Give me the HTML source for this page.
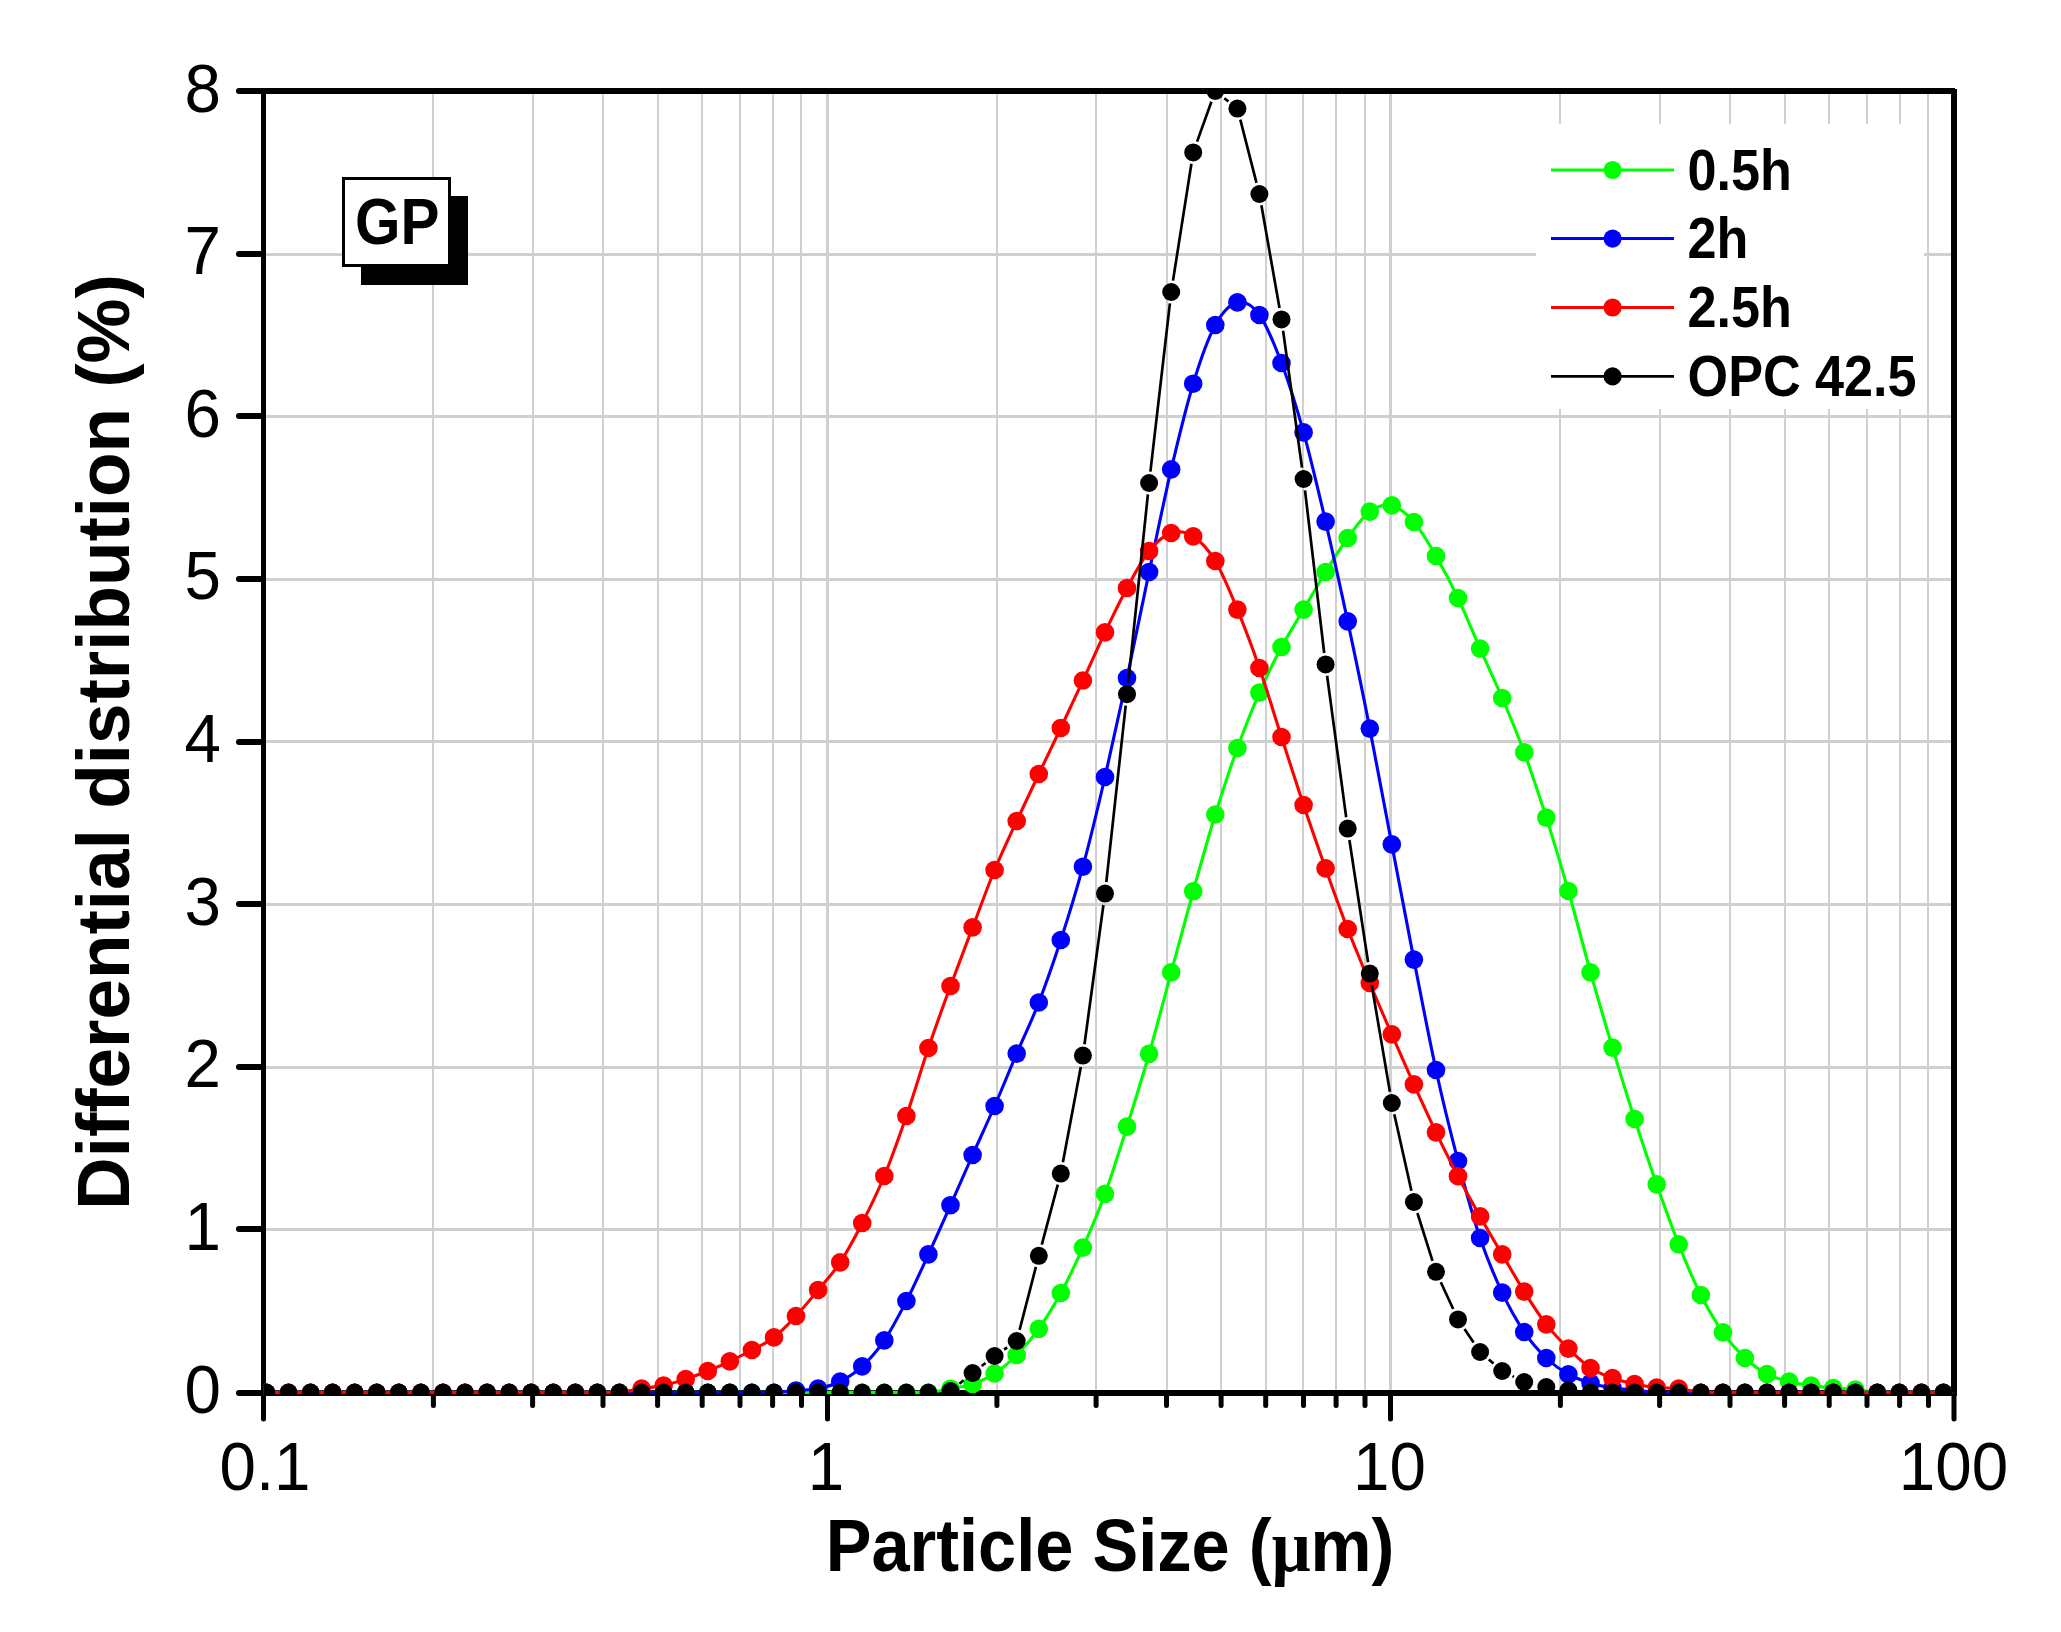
<!DOCTYPE html>
<html lang="en"><head><meta charset="utf-8"><title>Particle size distribution - GP</title>
<style>html,body{margin:0;padding:0;background:#fff;overflow:hidden}svg{display:block}text{font-family:"Liberation Sans",Arial,Helvetica,sans-serif;fill:#000;font-variant-ligatures:none;font-kerning:none}.b{font-weight:bold}</style></head><body>
<svg width="2061" height="1632" viewBox="0 0 2061 1632">
<rect x="0" y="0" width="2061" height="1632" fill="#fff"/>
<g fill="#d0d0d0" shape-rendering="crispEdges">
<rect x="432" y="94" width="2" height="1296"/>
<rect x="532" y="94" width="2" height="1296"/>
<rect x="602" y="94" width="2" height="1296"/>
<rect x="657" y="94" width="2" height="1296"/>
<rect x="701" y="94" width="2" height="1296"/>
<rect x="739" y="94" width="2" height="1296"/>
<rect x="772" y="94" width="2" height="1296"/>
<rect x="800" y="94" width="2" height="1296"/>
<rect x="996" y="94" width="2" height="1296"/>
<rect x="1095" y="94" width="2" height="1296"/>
<rect x="1166" y="94" width="2" height="1296"/>
<rect x="1220" y="94" width="2" height="1296"/>
<rect x="1265" y="94" width="2" height="1296"/>
<rect x="1302" y="94" width="2" height="1296"/>
<rect x="1335" y="94" width="2" height="1296"/>
<rect x="1364" y="94" width="2" height="1296"/>
<rect x="1559" y="94" width="2" height="1296"/>
<rect x="1659" y="94" width="2" height="1296"/>
<rect x="1729" y="94" width="2" height="1296"/>
<rect x="1784" y="94" width="2" height="1296"/>
<rect x="1828" y="94" width="2" height="1296"/>
<rect x="1866" y="94" width="2" height="1296"/>
<rect x="1899" y="94" width="2" height="1296"/>
<rect x="1927" y="94" width="2" height="1296"/>
<rect x="826" y="94" width="3" height="1296"/>
<rect x="1389" y="94" width="3" height="1296"/>
<rect x="266" y="1228" width="1685" height="3"/>
<rect x="266" y="1066" width="1685" height="3"/>
<rect x="266" y="903" width="1685" height="3"/>
<rect x="266" y="740" width="1685" height="3"/>
<rect x="266" y="578" width="1685" height="3"/>
<rect x="266" y="415" width="1685" height="3"/>
<rect x="266" y="253" width="1685" height="3"/>
</g>
<rect x="1536" y="124" width="388" height="285" fill="#fff"/>
<g fill="#000" shape-rendering="crispEdges">
<rect x="261" y="88" width="5" height="1308"/>
<rect x="1951" y="89" width="6" height="1307"/>
<rect x="261" y="88" width="1694" height="6"/>
<rect x="261" y="1390" width="1696" height="6"/>
</g>
<g stroke="#000" stroke-width="6" stroke-linecap="round" fill="none">
<line x1="239" y1="1393" x2="262" y2="1393"/>
<line x1="239" y1="1229" x2="262" y2="1229"/>
<line x1="239" y1="1067" x2="262" y2="1067"/>
<line x1="239" y1="904" x2="262" y2="904"/>
<line x1="239" y1="742" x2="262" y2="742"/>
<line x1="239" y1="579" x2="262" y2="579"/>
<line x1="239" y1="416" x2="262" y2="416"/>
<line x1="239" y1="254" x2="262" y2="254"/>
<line x1="239" y1="91" x2="262" y2="91"/>
</g>
<g stroke="#000" stroke-width="5" stroke-linecap="round" fill="none">
<line x1="263.5" y1="1394" x2="263.5" y2="1419"/>
<line x1="827.5" y1="1394" x2="827.5" y2="1419"/>
<line x1="1390.5" y1="1394" x2="1390.5" y2="1419"/>
<line x1="1954.0" y1="1394" x2="1954.0" y2="1419"/>
<line x1="433.4" y1="1394" x2="433.4" y2="1405.5"/>
<line x1="532.6" y1="1394" x2="532.6" y2="1405.5"/>
<line x1="603.0" y1="1394" x2="603.0" y2="1405.5"/>
<line x1="657.6" y1="1394" x2="657.6" y2="1405.5"/>
<line x1="702.2" y1="1394" x2="702.2" y2="1405.5"/>
<line x1="740.0" y1="1394" x2="740.0" y2="1405.5"/>
<line x1="772.6" y1="1394" x2="772.6" y2="1405.5"/>
<line x1="801.5" y1="1394" x2="801.5" y2="1405.5"/>
<line x1="996.9" y1="1394" x2="996.9" y2="1405.5"/>
<line x1="1096.1" y1="1394" x2="1096.1" y2="1405.5"/>
<line x1="1166.5" y1="1394" x2="1166.5" y2="1405.5"/>
<line x1="1221.1" y1="1394" x2="1221.1" y2="1405.5"/>
<line x1="1265.7" y1="1394" x2="1265.7" y2="1405.5"/>
<line x1="1303.5" y1="1394" x2="1303.5" y2="1405.5"/>
<line x1="1336.1" y1="1394" x2="1336.1" y2="1405.5"/>
<line x1="1365.0" y1="1394" x2="1365.0" y2="1405.5"/>
<line x1="1560.4" y1="1394" x2="1560.4" y2="1405.5"/>
<line x1="1659.6" y1="1394" x2="1659.6" y2="1405.5"/>
<line x1="1730.0" y1="1394" x2="1730.0" y2="1405.5"/>
<line x1="1784.6" y1="1394" x2="1784.6" y2="1405.5"/>
<line x1="1829.2" y1="1394" x2="1829.2" y2="1405.5"/>
<line x1="1867.0" y1="1394" x2="1867.0" y2="1405.5"/>
<line x1="1899.6" y1="1394" x2="1899.6" y2="1405.5"/>
<line x1="1928.5" y1="1394" x2="1928.5" y2="1405.5"/>
</g>
<defs><clipPath id="pc"><rect x="263.5" y="91" width="1691" height="1304"/></clipPath></defs>
<g clip-path="url(#pc)">
<path fill="none" stroke="#00ff00" stroke-width="3.1" stroke-linejoin="round" d="M266.4 1392.4L288.5 1392.4L310.6 1392.4L332.6 1392.4L354.7 1392.4L376.8 1392.4L398.8 1392.4L420.9 1392.4L443.0 1392.4L465.0 1392.4L487.1 1392.4L509.2 1392.4L531.2 1392.4L553.3 1392.4L575.4 1392.4L597.4 1392.4L619.5 1392.4L641.6 1392.4L663.6 1392.4L685.7 1392.4L707.8 1392.4L729.8 1392.4L751.9 1392.4L774.0 1392.4L796.0 1392.4L818.1 1392.4L840.2 1392.4L862.2 1392.4L884.3 1392.4L906.4 1392.4L928.4 1392.4C935.8 1391.8 943.1 1390.1 950.5 1388.7C957.9 1387.3 965.2 1386.5 972.6 1384.0C980.0 1381.5 987.2 1378.3 994.6 1373.5C1002.0 1368.7 1009.3 1362.5 1016.7 1355.0C1024.1 1347.5 1031.5 1339.1 1038.8 1328.8C1046.1 1318.5 1053.4 1306.5 1060.8 1293.0C1068.2 1279.5 1075.5 1264.1 1082.9 1247.6C1090.3 1231.1 1097.7 1214.0 1105.0 1193.8C1112.3 1173.6 1119.7 1149.9 1127.0 1126.6C1134.3 1103.3 1141.7 1079.5 1149.1 1053.8C1156.5 1028.1 1163.8 999.5 1171.2 972.4C1178.6 945.3 1185.9 917.6 1193.2 891.3C1200.5 865.0 1207.9 838.4 1215.3 814.5C1222.7 790.6 1230.1 768.3 1237.4 748.0C1244.8 727.7 1252.1 709.4 1259.4 692.6C1266.8 675.8 1274.1 660.8 1281.5 647.0C1288.9 633.2 1296.2 622.1 1303.6 609.6C1310.9 597.1 1318.2 583.9 1325.6 572.0C1332.9 560.1 1340.3 548.1 1347.7 538.0C1355.1 527.9 1362.5 517.0 1369.8 511.6C1377.1 506.2 1384.4 503.7 1391.8 505.4C1399.2 507.1 1406.5 513.6 1413.9 522.0C1421.3 530.4 1428.7 543.3 1436.0 556.0C1443.3 568.7 1450.7 582.6 1458.0 598.0C1465.3 613.4 1472.7 631.9 1480.1 648.6C1487.5 665.3 1494.8 680.7 1502.2 698.0C1509.6 715.3 1516.9 732.5 1524.2 752.4C1531.5 772.3 1538.9 794.5 1546.3 817.6C1553.7 840.7 1561.0 865.2 1568.4 891.0C1575.8 916.8 1583.2 946.3 1590.5 972.4C1597.8 998.5 1605.2 1023.2 1612.5 1047.6C1619.8 1072.0 1627.2 1096.2 1634.6 1119.0C1642.0 1141.8 1649.3 1163.5 1656.7 1184.4C1664.1 1205.3 1671.4 1226.0 1678.7 1244.4C1686.0 1262.8 1693.4 1280.3 1700.8 1295.0C1708.2 1309.7 1715.6 1321.9 1722.9 1332.4C1730.2 1342.9 1737.6 1351.1 1744.9 1358.0C1752.2 1364.9 1759.6 1370.1 1767.0 1374.0C1774.4 1377.9 1781.8 1379.6 1789.1 1381.5C1796.4 1383.4 1803.8 1384.5 1811.1 1385.6C1818.4 1386.7 1825.8 1387.3 1833.2 1388.0C1840.6 1388.7 1848.0 1388.8 1855.3 1389.5C1862.6 1390.2 1869.9 1391.9 1877.3 1392.4L1899.4 1392.4L1921.5 1392.4L1943.5 1392.4"/>
<g fill="#00ff00"><circle cx="266.4" cy="1392.4" r="8.8"/><circle cx="288.5" cy="1392.4" r="8.8"/><circle cx="310.6" cy="1392.4" r="8.8"/><circle cx="332.6" cy="1392.4" r="8.8"/><circle cx="354.7" cy="1392.4" r="8.8"/><circle cx="376.8" cy="1392.4" r="8.8"/><circle cx="398.8" cy="1392.4" r="8.8"/><circle cx="420.9" cy="1392.4" r="8.8"/><circle cx="443.0" cy="1392.4" r="8.8"/><circle cx="465.0" cy="1392.4" r="8.8"/><circle cx="487.1" cy="1392.4" r="8.8"/><circle cx="509.2" cy="1392.4" r="8.8"/><circle cx="531.2" cy="1392.4" r="8.8"/><circle cx="553.3" cy="1392.4" r="8.8"/><circle cx="575.4" cy="1392.4" r="8.8"/><circle cx="597.4" cy="1392.4" r="8.8"/><circle cx="619.5" cy="1392.4" r="8.8"/><circle cx="641.6" cy="1392.4" r="8.8"/><circle cx="663.6" cy="1392.4" r="8.8"/><circle cx="685.7" cy="1392.4" r="8.8"/><circle cx="707.8" cy="1392.4" r="8.8"/><circle cx="729.8" cy="1392.4" r="8.8"/><circle cx="751.9" cy="1392.4" r="8.8"/><circle cx="774.0" cy="1392.4" r="8.8"/><circle cx="796.0" cy="1392.4" r="8.8"/><circle cx="818.1" cy="1392.4" r="8.8"/><circle cx="840.2" cy="1392.4" r="8.8"/><circle cx="862.2" cy="1392.4" r="8.8"/><circle cx="884.3" cy="1392.4" r="8.8"/><circle cx="906.4" cy="1392.4" r="8.8"/><circle cx="928.4" cy="1392.4" r="8.8"/><circle cx="950.5" cy="1388.7" r="9.3"/><circle cx="972.6" cy="1384" r="9.3"/><circle cx="994.6" cy="1373.5" r="9.3"/><circle cx="1016.7" cy="1355" r="9.3"/><circle cx="1038.8" cy="1328.8" r="9.3"/><circle cx="1060.8" cy="1293" r="9.3"/><circle cx="1082.9" cy="1247.6" r="9.3"/><circle cx="1105.0" cy="1193.8" r="9.3"/><circle cx="1127.0" cy="1126.6" r="9.3"/><circle cx="1149.1" cy="1053.8" r="9.3"/><circle cx="1171.2" cy="972.4" r="9.3"/><circle cx="1193.2" cy="891.3" r="9.3"/><circle cx="1215.3" cy="814.5" r="9.3"/><circle cx="1237.4" cy="748" r="9.3"/><circle cx="1259.4" cy="692.6" r="9.3"/><circle cx="1281.5" cy="647" r="9.3"/><circle cx="1303.6" cy="609.6" r="9.3"/><circle cx="1325.6" cy="572" r="9.3"/><circle cx="1347.7" cy="538" r="9.3"/><circle cx="1369.8" cy="511.6" r="9.3"/><circle cx="1391.8" cy="505.4" r="9.3"/><circle cx="1413.9" cy="522" r="9.3"/><circle cx="1436.0" cy="556" r="9.3"/><circle cx="1458.0" cy="598" r="9.3"/><circle cx="1480.1" cy="648.6" r="9.3"/><circle cx="1502.2" cy="698" r="9.3"/><circle cx="1524.2" cy="752.4" r="9.3"/><circle cx="1546.3" cy="817.6" r="9.3"/><circle cx="1568.4" cy="891" r="9.3"/><circle cx="1590.5" cy="972.4" r="9.3"/><circle cx="1612.5" cy="1047.6" r="9.3"/><circle cx="1634.6" cy="1119" r="9.3"/><circle cx="1656.7" cy="1184.4" r="9.3"/><circle cx="1678.7" cy="1244.4" r="9.3"/><circle cx="1700.8" cy="1295" r="9.3"/><circle cx="1722.9" cy="1332.4" r="9.3"/><circle cx="1744.9" cy="1358" r="9.3"/><circle cx="1767.0" cy="1374" r="9.3"/><circle cx="1789.1" cy="1381.5" r="9.3"/><circle cx="1811.1" cy="1385.6" r="9.3"/><circle cx="1833.2" cy="1388" r="9.3"/><circle cx="1855.3" cy="1389.5" r="9.3"/><circle cx="1877.3" cy="1392.4" r="8.8"/><circle cx="1899.4" cy="1392.4" r="8.8"/><circle cx="1921.5" cy="1392.4" r="8.8"/><circle cx="1943.5" cy="1392.4" r="8.8"/></g>
<path fill="none" stroke="#0000ff" stroke-width="3.1" stroke-linejoin="round" d="M266.4 1392.4L288.5 1392.4L310.6 1392.4L332.6 1392.4L354.7 1392.4L376.8 1392.4L398.8 1392.4L420.9 1392.4L443.0 1392.4L465.0 1392.4L487.1 1392.4L509.2 1392.4L531.2 1392.4L553.3 1392.4L575.4 1392.4L597.4 1392.4L619.5 1392.4L641.6 1392.4L663.6 1392.4L685.7 1392.4L707.8 1392.4L729.8 1392.4L751.9 1392.4L774.0 1392.4C781.4 1392.1 788.6 1391.2 796.0 1390.5C803.4 1389.8 810.7 1390.0 818.1 1388.5C825.5 1387.0 832.9 1385.2 840.2 1381.5C847.6 1377.8 854.9 1373.2 862.2 1366.4C869.6 1359.6 876.9 1351.3 884.3 1340.4C891.7 1329.5 899.0 1315.3 906.4 1301.0C913.8 1286.7 921.0 1270.4 928.4 1254.4C935.8 1238.4 943.1 1221.8 950.5 1205.2C957.9 1188.6 965.2 1171.5 972.6 1155.0C980.0 1138.5 987.2 1122.9 994.6 1106.0C1002.0 1089.1 1009.3 1070.8 1016.7 1053.6C1024.1 1036.3 1031.5 1021.4 1038.8 1002.5C1046.1 983.6 1053.4 962.6 1060.8 940.0C1068.2 917.4 1075.5 893.9 1082.9 866.7C1090.3 839.5 1097.7 808.5 1105.0 777.0C1112.3 745.5 1119.7 712.2 1127.0 678.0C1134.3 643.8 1141.7 606.8 1149.1 572.0C1156.5 537.2 1163.8 500.8 1171.2 469.4C1178.6 438.0 1185.9 407.8 1193.2 383.7C1200.5 359.6 1207.9 338.6 1215.3 325.0C1222.7 311.4 1230.1 304.1 1237.4 302.4C1244.8 300.7 1252.1 304.9 1259.4 315.0C1266.8 325.1 1274.1 343.4 1281.5 363.0C1288.9 382.6 1296.2 406.0 1303.6 432.4C1310.9 458.8 1318.2 490.1 1325.6 521.6C1332.9 553.1 1340.3 586.9 1347.7 621.4C1355.1 655.9 1362.5 691.4 1369.8 728.6C1377.1 765.8 1384.4 805.9 1391.8 844.4C1399.2 882.9 1406.5 922.0 1413.9 959.6C1421.3 997.2 1428.7 1036.4 1436.0 1070.0C1443.3 1103.6 1450.7 1133.0 1458.0 1161.0C1465.3 1189.0 1472.7 1216.1 1480.1 1238.0C1487.5 1259.9 1494.8 1276.9 1502.2 1292.6C1509.6 1308.3 1516.9 1321.1 1524.2 1332.0C1531.5 1342.9 1538.9 1350.9 1546.3 1358.0C1553.7 1365.1 1561.0 1370.2 1568.4 1374.4C1575.8 1378.6 1583.2 1380.7 1590.5 1383.0C1597.8 1385.3 1605.2 1386.8 1612.5 1388.0C1619.8 1389.2 1627.2 1389.3 1634.6 1390.0C1642.0 1390.7 1649.3 1392.0 1656.7 1392.4L1678.7 1392.4L1700.8 1392.4L1722.9 1392.4L1744.9 1392.4L1767.0 1392.4L1789.1 1392.4L1811.1 1392.4L1833.2 1392.4L1855.3 1392.4L1877.3 1392.4L1899.4 1392.4L1921.5 1392.4L1943.5 1392.4"/>
<g fill="#0000ff"><circle cx="266.4" cy="1392.4" r="8.8"/><circle cx="288.5" cy="1392.4" r="8.8"/><circle cx="310.6" cy="1392.4" r="8.8"/><circle cx="332.6" cy="1392.4" r="8.8"/><circle cx="354.7" cy="1392.4" r="8.8"/><circle cx="376.8" cy="1392.4" r="8.8"/><circle cx="398.8" cy="1392.4" r="8.8"/><circle cx="420.9" cy="1392.4" r="8.8"/><circle cx="443.0" cy="1392.4" r="8.8"/><circle cx="465.0" cy="1392.4" r="8.8"/><circle cx="487.1" cy="1392.4" r="8.8"/><circle cx="509.2" cy="1392.4" r="8.8"/><circle cx="531.2" cy="1392.4" r="8.8"/><circle cx="553.3" cy="1392.4" r="8.8"/><circle cx="575.4" cy="1392.4" r="8.8"/><circle cx="597.4" cy="1392.4" r="8.8"/><circle cx="619.5" cy="1392.4" r="8.8"/><circle cx="641.6" cy="1392.4" r="8.8"/><circle cx="663.6" cy="1392.4" r="8.8"/><circle cx="685.7" cy="1392.4" r="8.8"/><circle cx="707.8" cy="1392.4" r="8.8"/><circle cx="729.8" cy="1392.4" r="8.8"/><circle cx="751.9" cy="1392.4" r="8.8"/><circle cx="774.0" cy="1392.4" r="8.8"/><circle cx="796.0" cy="1390.5" r="9.3"/><circle cx="818.1" cy="1388.5" r="9.3"/><circle cx="840.2" cy="1381.5" r="9.3"/><circle cx="862.2" cy="1366.4" r="9.3"/><circle cx="884.3" cy="1340.4" r="9.3"/><circle cx="906.4" cy="1301" r="9.3"/><circle cx="928.4" cy="1254.4" r="9.3"/><circle cx="950.5" cy="1205.2" r="9.3"/><circle cx="972.6" cy="1155" r="9.3"/><circle cx="994.6" cy="1106" r="9.3"/><circle cx="1016.7" cy="1053.6" r="9.3"/><circle cx="1038.8" cy="1002.5" r="9.3"/><circle cx="1060.8" cy="940" r="9.3"/><circle cx="1082.9" cy="866.7" r="9.3"/><circle cx="1105.0" cy="777" r="9.3"/><circle cx="1127.0" cy="678" r="9.3"/><circle cx="1149.1" cy="572" r="9.3"/><circle cx="1171.2" cy="469.4" r="9.3"/><circle cx="1193.2" cy="383.7" r="9.3"/><circle cx="1215.3" cy="325" r="9.3"/><circle cx="1237.4" cy="302.4" r="9.3"/><circle cx="1259.4" cy="315" r="9.3"/><circle cx="1281.5" cy="363" r="9.3"/><circle cx="1303.6" cy="432.4" r="9.3"/><circle cx="1325.6" cy="521.6" r="9.3"/><circle cx="1347.7" cy="621.4" r="9.3"/><circle cx="1369.8" cy="728.6" r="9.3"/><circle cx="1391.8" cy="844.4" r="9.3"/><circle cx="1413.9" cy="959.6" r="9.3"/><circle cx="1436.0" cy="1070" r="9.3"/><circle cx="1458.0" cy="1161" r="9.3"/><circle cx="1480.1" cy="1238" r="9.3"/><circle cx="1502.2" cy="1292.6" r="9.3"/><circle cx="1524.2" cy="1332" r="9.3"/><circle cx="1546.3" cy="1358" r="9.3"/><circle cx="1568.4" cy="1374.4" r="9.3"/><circle cx="1590.5" cy="1383" r="9.3"/><circle cx="1612.5" cy="1388" r="9.3"/><circle cx="1634.6" cy="1390" r="9.3"/><circle cx="1656.7" cy="1392.4" r="8.8"/><circle cx="1678.7" cy="1392.4" r="8.8"/><circle cx="1700.8" cy="1392.4" r="8.8"/><circle cx="1722.9" cy="1392.4" r="8.8"/><circle cx="1744.9" cy="1392.4" r="8.8"/><circle cx="1767.0" cy="1392.4" r="8.8"/><circle cx="1789.1" cy="1392.4" r="8.8"/><circle cx="1811.1" cy="1392.4" r="8.8"/><circle cx="1833.2" cy="1392.4" r="8.8"/><circle cx="1855.3" cy="1392.4" r="8.8"/><circle cx="1877.3" cy="1392.4" r="8.8"/><circle cx="1899.4" cy="1392.4" r="8.8"/><circle cx="1921.5" cy="1392.4" r="8.8"/><circle cx="1943.5" cy="1392.4" r="8.8"/></g>
<path fill="none" stroke="#ff0000" stroke-width="3.1" stroke-linejoin="round" d="M266.4 1392.4L288.5 1392.4L310.6 1392.4L332.6 1392.4L354.7 1392.4L376.8 1392.4L398.8 1392.4L420.9 1392.4L443.0 1392.4L465.0 1392.4L487.1 1392.4L509.2 1392.4L531.2 1392.4L553.3 1392.4L575.4 1392.4L597.4 1392.4L619.5 1392.4C626.9 1391.8 634.2 1389.7 641.6 1388.5C649.0 1387.3 656.2 1387.1 663.6 1385.5C671.0 1383.9 678.3 1381.4 685.7 1379.0C693.1 1376.6 700.4 1373.9 707.8 1371.0C715.1 1368.1 722.4 1364.9 729.8 1361.4C737.1 1357.9 744.5 1354.0 751.9 1350.0C759.3 1346.0 766.6 1343.1 774.0 1337.4C781.4 1331.7 788.6 1323.9 796.0 1316.0C803.4 1308.1 810.7 1298.9 818.1 1290.0C825.5 1281.1 832.9 1273.6 840.2 1262.4C847.6 1251.2 854.9 1237.4 862.2 1223.0C869.6 1208.6 876.9 1193.8 884.3 1176.0C891.7 1158.2 899.0 1137.3 906.4 1116.0C913.8 1094.7 921.0 1069.7 928.4 1048.0C935.8 1026.3 943.1 1006.1 950.5 986.0C957.9 965.9 965.2 946.7 972.6 927.4C980.0 908.1 987.2 887.7 994.6 870.0C1002.0 852.3 1009.3 837.0 1016.7 821.0C1024.1 805.0 1031.5 789.5 1038.8 774.0C1046.1 758.5 1053.4 743.6 1060.8 728.0C1068.2 712.4 1075.5 696.4 1082.9 680.5C1090.3 664.6 1097.7 647.8 1105.0 632.4C1112.3 617.0 1119.7 601.6 1127.0 588.0C1134.3 574.4 1141.7 560.2 1149.1 551.0C1156.5 541.8 1163.8 535.4 1171.2 533.0C1178.6 530.6 1185.9 531.7 1193.2 536.4C1200.5 541.1 1207.9 548.8 1215.3 561.0C1222.7 573.2 1230.1 591.8 1237.4 609.6C1244.8 627.4 1252.1 646.8 1259.4 668.0C1266.8 689.2 1274.1 714.2 1281.5 737.0C1288.9 759.8 1296.2 783.1 1303.6 805.0C1310.9 826.9 1318.2 847.7 1325.6 868.4C1332.9 889.1 1340.3 909.9 1347.7 929.0C1355.1 948.1 1362.5 965.4 1369.8 983.0C1377.1 1000.6 1384.4 1017.5 1391.8 1034.4C1399.2 1051.3 1406.5 1068.1 1413.9 1084.4C1421.3 1100.7 1428.7 1117.1 1436.0 1132.4C1443.3 1147.7 1450.7 1162.2 1458.0 1176.2C1465.3 1190.2 1472.7 1203.4 1480.1 1216.4C1487.5 1229.4 1494.8 1241.9 1502.2 1254.4C1509.6 1266.9 1516.9 1279.9 1524.2 1291.6C1531.5 1303.3 1538.9 1314.9 1546.3 1324.4C1553.7 1333.9 1561.0 1341.3 1568.4 1348.6C1575.8 1355.9 1583.2 1363.1 1590.5 1368.0C1597.8 1372.9 1605.2 1375.3 1612.5 1378.0C1619.8 1380.7 1627.2 1382.4 1634.6 1384.0C1642.0 1385.6 1649.3 1386.8 1656.7 1387.6C1664.1 1388.3 1671.4 1387.7 1678.7 1388.5C1686.0 1389.3 1693.4 1391.8 1700.8 1392.4L1722.9 1392.4L1744.9 1392.4L1767.0 1392.4L1789.1 1392.4L1811.1 1392.4L1833.2 1392.4L1855.3 1392.4L1877.3 1392.4L1899.4 1392.4L1921.5 1392.4L1943.5 1392.4"/>
<g fill="#ff0000"><circle cx="266.4" cy="1392.4" r="8.8"/><circle cx="288.5" cy="1392.4" r="8.8"/><circle cx="310.6" cy="1392.4" r="8.8"/><circle cx="332.6" cy="1392.4" r="8.8"/><circle cx="354.7" cy="1392.4" r="8.8"/><circle cx="376.8" cy="1392.4" r="8.8"/><circle cx="398.8" cy="1392.4" r="8.8"/><circle cx="420.9" cy="1392.4" r="8.8"/><circle cx="443.0" cy="1392.4" r="8.8"/><circle cx="465.0" cy="1392.4" r="8.8"/><circle cx="487.1" cy="1392.4" r="8.8"/><circle cx="509.2" cy="1392.4" r="8.8"/><circle cx="531.2" cy="1392.4" r="8.8"/><circle cx="553.3" cy="1392.4" r="8.8"/><circle cx="575.4" cy="1392.4" r="8.8"/><circle cx="597.4" cy="1392.4" r="8.8"/><circle cx="619.5" cy="1392.4" r="8.8"/><circle cx="641.6" cy="1388.5" r="9.3"/><circle cx="663.6" cy="1385.5" r="9.3"/><circle cx="685.7" cy="1379" r="9.3"/><circle cx="707.8" cy="1371" r="9.3"/><circle cx="729.8" cy="1361.4" r="9.3"/><circle cx="751.9" cy="1350" r="9.3"/><circle cx="774.0" cy="1337.4" r="9.3"/><circle cx="796.0" cy="1316" r="9.3"/><circle cx="818.1" cy="1290" r="9.3"/><circle cx="840.2" cy="1262.4" r="9.3"/><circle cx="862.2" cy="1223" r="9.3"/><circle cx="884.3" cy="1176" r="9.3"/><circle cx="906.4" cy="1116" r="9.3"/><circle cx="928.4" cy="1048" r="9.3"/><circle cx="950.5" cy="986" r="9.3"/><circle cx="972.6" cy="927.4" r="9.3"/><circle cx="994.6" cy="870" r="9.3"/><circle cx="1016.7" cy="821" r="9.3"/><circle cx="1038.8" cy="774" r="9.3"/><circle cx="1060.8" cy="728" r="9.3"/><circle cx="1082.9" cy="680.5" r="9.3"/><circle cx="1105.0" cy="632.4" r="9.3"/><circle cx="1127.0" cy="588" r="9.3"/><circle cx="1149.1" cy="551" r="9.3"/><circle cx="1171.2" cy="533" r="9.3"/><circle cx="1193.2" cy="536.4" r="9.3"/><circle cx="1215.3" cy="561" r="9.3"/><circle cx="1237.4" cy="609.6" r="9.3"/><circle cx="1259.4" cy="668" r="9.3"/><circle cx="1281.5" cy="737" r="9.3"/><circle cx="1303.6" cy="805" r="9.3"/><circle cx="1325.6" cy="868.4" r="9.3"/><circle cx="1347.7" cy="929" r="9.3"/><circle cx="1369.8" cy="983" r="9.3"/><circle cx="1391.8" cy="1034.4" r="9.3"/><circle cx="1413.9" cy="1084.4" r="9.3"/><circle cx="1436.0" cy="1132.4" r="9.3"/><circle cx="1458.0" cy="1176.2" r="9.3"/><circle cx="1480.1" cy="1216.4" r="9.3"/><circle cx="1502.2" cy="1254.4" r="9.3"/><circle cx="1524.2" cy="1291.6" r="9.3"/><circle cx="1546.3" cy="1324.4" r="9.3"/><circle cx="1568.4" cy="1348.6" r="9.3"/><circle cx="1590.5" cy="1368" r="9.3"/><circle cx="1612.5" cy="1378" r="9.3"/><circle cx="1634.6" cy="1384" r="9.3"/><circle cx="1656.7" cy="1387.6" r="9.3"/><circle cx="1678.7" cy="1388.5" r="9.3"/><circle cx="1700.8" cy="1392.4" r="8.8"/><circle cx="1722.9" cy="1392.4" r="8.8"/><circle cx="1744.9" cy="1392.4" r="8.8"/><circle cx="1767.0" cy="1392.4" r="8.8"/><circle cx="1789.1" cy="1392.4" r="8.8"/><circle cx="1811.1" cy="1392.4" r="8.8"/><circle cx="1833.2" cy="1392.4" r="8.8"/><circle cx="1855.3" cy="1392.4" r="8.8"/><circle cx="1877.3" cy="1392.4" r="8.8"/><circle cx="1899.4" cy="1392.4" r="8.8"/><circle cx="1921.5" cy="1392.4" r="8.8"/><circle cx="1943.5" cy="1392.4" r="8.8"/></g>
<path fill="none" stroke="#000000" stroke-width="2.7" d="M959.4 1383.7L963.7 1380.3M981.7 1366.0L985.5 1363.0M1004.1 1349.5L1007.2 1347.5M1019.6 1329.9L1035.9 1266.9M1041.8 1244.7L1057.8 1184.7M1062.9 1162.3L1080.8 1066.9M1084.5 1044.2L1103.4 905.0M1106.3 882.2L1125.7 705.6M1128.2 682.8L1147.9 494.4M1150.4 471.6L1169.9 303.4M1173.0 280.6L1191.4 163.8M1197.1 141.6L1211.4 101.8M1224.3 98.2L1228.4 101.4M1240.3 119.7L1256.5 182.9M1261.4 205.3L1279.5 308.1M1283.1 330.8L1302.0 467.6M1305.0 490.4L1324.2 653.0M1327.1 675.8L1346.2 817.2M1349.4 840.0L1368.1 962.2M1371.7 984.9L1389.9 1091.7M1394.3 1114.2L1411.4 1190.8M1417.4 1213.0L1432.5 1260.8M1440.8 1282.2L1453.2 1309.0M1464.5 1328.9L1473.6 1342.5M1488.8 1359.5L1493.5 1363.5M1512.5 1376.1L1513.9 1376.9"/>
<g fill="#000000"><circle cx="266.4" cy="1392.4" r="8.8"/><circle cx="288.5" cy="1392.4" r="8.8"/><circle cx="310.6" cy="1392.4" r="8.8"/><circle cx="332.6" cy="1392.4" r="8.8"/><circle cx="354.7" cy="1392.4" r="8.8"/><circle cx="376.8" cy="1392.4" r="8.8"/><circle cx="398.8" cy="1392.4" r="8.8"/><circle cx="420.9" cy="1392.4" r="8.8"/><circle cx="443.0" cy="1392.4" r="8.8"/><circle cx="465.0" cy="1392.4" r="8.8"/><circle cx="487.1" cy="1392.4" r="8.8"/><circle cx="509.2" cy="1392.4" r="8.8"/><circle cx="531.2" cy="1392.4" r="8.8"/><circle cx="553.3" cy="1392.4" r="8.8"/><circle cx="575.4" cy="1392.4" r="8.8"/><circle cx="597.4" cy="1392.4" r="8.8"/><circle cx="619.5" cy="1392.4" r="8.8"/><circle cx="641.6" cy="1392.4" r="8.8"/><circle cx="663.6" cy="1392.4" r="8.8"/><circle cx="685.7" cy="1392.4" r="8.8"/><circle cx="707.8" cy="1392.4" r="8.8"/><circle cx="729.8" cy="1392.4" r="8.8"/><circle cx="751.9" cy="1392.4" r="8.8"/><circle cx="774.0" cy="1392.4" r="8.8"/><circle cx="796.0" cy="1392.4" r="8.8"/><circle cx="818.1" cy="1392.4" r="8.8"/><circle cx="840.2" cy="1392.4" r="8.8"/><circle cx="862.2" cy="1392.4" r="8.8"/><circle cx="884.3" cy="1392.4" r="8.8"/><circle cx="906.4" cy="1392.4" r="8.8"/><circle cx="928.4" cy="1392.4" r="8.8"/><circle cx="950.5" cy="1391" r="9.0"/><circle cx="972.6" cy="1373" r="9.0"/><circle cx="994.6" cy="1356" r="9.0"/><circle cx="1016.7" cy="1341" r="9.0"/><circle cx="1038.8" cy="1255.8" r="9.0"/><circle cx="1060.8" cy="1173.6" r="9.0"/><circle cx="1082.9" cy="1055.6" r="9.0"/><circle cx="1105.0" cy="893.6" r="9.0"/><circle cx="1127.0" cy="694.2" r="9.0"/><circle cx="1149.1" cy="483" r="9.0"/><circle cx="1171.2" cy="292" r="9.0"/><circle cx="1193.2" cy="152.4" r="9.0"/><circle cx="1215.3" cy="91" r="9.0"/><circle cx="1237.4" cy="108.6" r="9.0"/><circle cx="1259.4" cy="194" r="9.0"/><circle cx="1281.5" cy="319.4" r="9.0"/><circle cx="1303.6" cy="479" r="9.0"/><circle cx="1325.6" cy="664.4" r="9.0"/><circle cx="1347.7" cy="828.6" r="9.0"/><circle cx="1369.8" cy="973.6" r="9.0"/><circle cx="1391.8" cy="1103" r="9.0"/><circle cx="1413.9" cy="1202" r="9.0"/><circle cx="1436.0" cy="1271.8" r="9.0"/><circle cx="1458.0" cy="1319.4" r="9.0"/><circle cx="1480.1" cy="1352" r="9.0"/><circle cx="1502.2" cy="1371" r="9.0"/><circle cx="1524.2" cy="1382" r="9.0"/><circle cx="1546.3" cy="1387" r="9.0"/><circle cx="1568.4" cy="1390.4" r="9.0"/><circle cx="1590.5" cy="1392.4" r="8.8"/><circle cx="1612.5" cy="1392.4" r="8.8"/><circle cx="1634.6" cy="1392.4" r="8.8"/><circle cx="1656.7" cy="1392.4" r="8.8"/><circle cx="1678.7" cy="1392.4" r="8.8"/><circle cx="1700.8" cy="1392.4" r="8.8"/><circle cx="1722.9" cy="1392.4" r="8.8"/><circle cx="1744.9" cy="1392.4" r="8.8"/><circle cx="1767.0" cy="1392.4" r="8.8"/><circle cx="1789.1" cy="1392.4" r="8.8"/><circle cx="1811.1" cy="1392.4" r="8.8"/><circle cx="1833.2" cy="1392.4" r="8.8"/><circle cx="1855.3" cy="1392.4" r="8.8"/><circle cx="1877.3" cy="1392.4" r="8.8"/><circle cx="1899.4" cy="1392.4" r="8.8"/><circle cx="1921.5" cy="1392.4" r="8.8"/><circle cx="1943.5" cy="1392.4" r="8.8"/></g>
</g>
<g shape-rendering="crispEdges">
<rect x="361" y="196" width="107" height="89" fill="#000"/>
<rect x="343.5" y="178.5" width="106" height="87" fill="#fff" stroke="#000" stroke-width="3"/>
</g>
<text class="b" transform="translate(397.3 243.7) scale(0.914 1)" font-size="64" text-anchor="middle">GP</text>
<line x1="1551" y1="170" x2="1674" y2="170" stroke="#00ff00" stroke-width="3"/>
<circle cx="1612.6" cy="170" r="9.1" fill="#00ff00"/>
<text class="b" transform="translate(1687.6 190) scale(0.915 1)" font-size="57">0.5h</text>
<line x1="1551" y1="238.6" x2="1674" y2="238.6" stroke="#0000ff" stroke-width="3"/>
<circle cx="1612.6" cy="238.6" r="9.1" fill="#0000ff"/>
<text class="b" transform="translate(1687.6 258) scale(0.915 1)" font-size="57">2h</text>
<line x1="1551" y1="307.5" x2="1674" y2="307.5" stroke="#ff0000" stroke-width="3"/>
<circle cx="1612.6" cy="307.5" r="9.1" fill="#ff0000"/>
<text class="b" transform="translate(1687.6 327) scale(0.915 1)" font-size="57">2.5h</text>
<line x1="1551" y1="376.4" x2="1674" y2="376.4" stroke="#000000" stroke-width="2.8"/>
<circle cx="1612.6" cy="376.4" r="9.1" fill="#000000"/>
<text class="b" transform="translate(1687.6 395.6) scale(0.915 1)" font-size="57">OPC 42.5</text>
<text transform="translate(221 1412.5) scale(0.95 1)" font-size="69" text-anchor="end">0</text>
<text transform="translate(221 1249.9) scale(0.95 1)" font-size="69" text-anchor="end">1</text>
<text transform="translate(221 1087.2) scale(0.95 1)" font-size="69" text-anchor="end">2</text>
<text transform="translate(221 924.6) scale(0.95 1)" font-size="69" text-anchor="end">3</text>
<text transform="translate(221 762.0) scale(0.95 1)" font-size="69" text-anchor="end">4</text>
<text transform="translate(221 599.4) scale(0.95 1)" font-size="69" text-anchor="end">5</text>
<text transform="translate(221 436.8) scale(0.95 1)" font-size="69" text-anchor="end">6</text>
<text transform="translate(221 274.1) scale(0.95 1)" font-size="69" text-anchor="end">7</text>
<text transform="translate(221 111.5) scale(0.95 1)" font-size="69" text-anchor="end">8</text>
<text transform="translate(265 1489.5) scale(0.95 1)" font-size="69" text-anchor="middle">0.1</text>
<text transform="translate(826 1489.5) scale(0.95 1)" font-size="69" text-anchor="middle">1</text>
<text transform="translate(1389.5 1489.5) scale(0.95 1)" font-size="69" text-anchor="middle">10</text>
<text transform="translate(1953.5 1489.5) scale(0.95 1)" font-size="69" text-anchor="middle">100</text>
<text class="b" transform="translate(1110 1570.8) scale(0.9145 1)" font-size="75" text-anchor="middle">Particle Size (<tspan font-family="'Liberation Serif','DejaVu Serif',serif">μ</tspan>m)</text>
<text class="b" transform="translate(129.4 742.1) rotate(-90) scale(0.9723 1)" font-size="75" text-anchor="middle">Differential distribution (%)</text>
</svg></body></html>
